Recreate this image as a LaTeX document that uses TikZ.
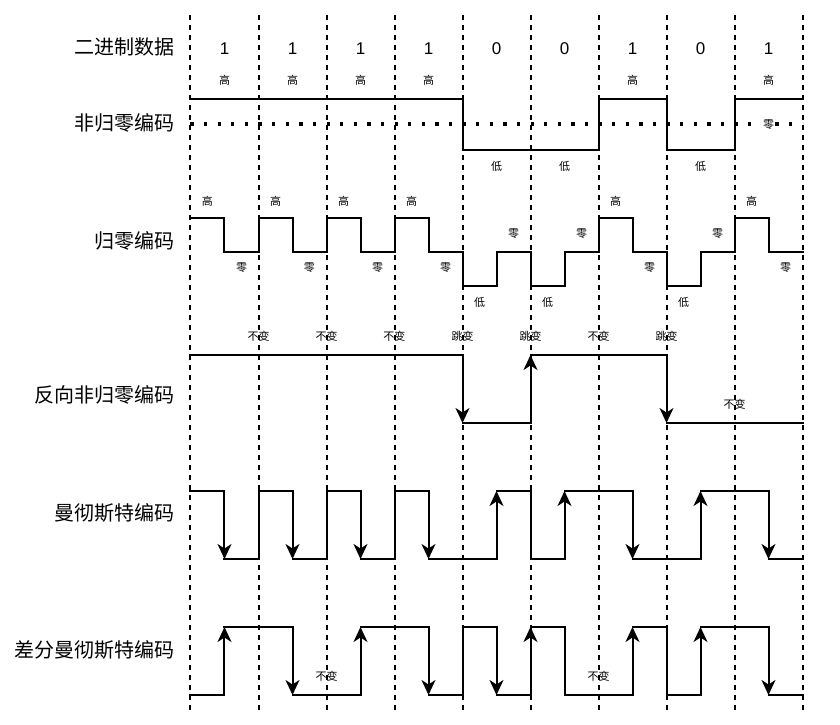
\documentclass[tikz,border=0pt]{standalone}
\usepackage{fontspec}
\setmainfont{Liberation Sans}
\newfontfamily\cjk{Noto Sans CJK SC}
\usetikzlibrary{arrows.meta}

\begin{document}
\begin{tikzpicture}[x=68pt, y=-1pt,
        grid/.style={line width=2pt, dash pattern=on 5pt off 5pt},
        dots/.style={line width=3.2pt, dash pattern=on 3.2pt off 10.4pt},
        wave/.style={line width=2pt, line cap=rect},
        tip/.style={line width=2pt, -{Stealth[length=15pt, width=14pt, inset=4.5pt]}},
        rowlabel/.style={font=\cjk\fontsize{20}{24}\selectfont, anchor=east, inner sep=0pt},
        small/.style={font=\cjk\fontsize{11}{13}\selectfont, inner sep=0pt},
        bit/.style={font=\fontsize{17}{20}\selectfont, inner sep=0pt}]
    \useasboundingbox (-2.8015,0) rectangle (9.5515,725);
    % dashed bit borders
    \foreach \k in {0,...,9}
        \draw[grid] (\k,15) -- (\k,712);
    % row labels
    \node[rowlabel] (Lbin) at (-0.228,47) {二进制数据};
    \node[rowlabel] (Lnrz) at (-0.228,123) {非归零编码};
    \node[rowlabel] (Lrz) at (-0.228,241) {归零编码};
    \node[rowlabel] (Lnrzi) at (-0.228,395) {反向非归零编码};
    \node[rowlabel] (Lman) at (-0.228,513) {曼彻斯特编码};
    \node[rowlabel] (Ldman) at (-0.228,650) {差分曼彻斯特编码};
    % bits
    \foreach \b [count=\k from 0] in {1,1,1,1,0,0,1,0,1} {
        \node[bit] (B\k) at (\k+0.5,49) {\b};
    }
    % NRZ
    \draw[dots] (0,124) -- (9,124);
    \draw[wave] (0,99) -- (4,99) -- (4,150.5) -- (6,150.5) -- (6,99) -- (7,99)
        -- (7,150.5) -- (8,150.5) -- (8,99) -- (9,99);
    \foreach \b [count=\k from 0] in {1,1,1,1,0,0,1,0,1} {
        \ifnum\b=1
            \node[small] (N\k) at (\k+0.5,80) {高};
        \else
            \node[small] (N\k) at (\k+0.5,166) {低};
        \fi
    }
    \node[small, fill=white, inner sep=1pt] (Nz) at (8.5,125) {零};
    % RZ
    \draw[wave] (0,218.5) -- (0.5,218.5) -- (0.5,252) -- (1,252) -- (1,218.5)
        -- (1.5,218.5) -- (1.5,252) -- (2,252) -- (2,218.5) -- (2.5,218.5)
        -- (2.5,252) -- (3,252) -- (3,218.5) -- (3.5,218.5) -- (3.5,252)
        -- (4,252) -- (4,286.5) -- (4.5,286.5) -- (4.5,252) -- (5,252)
        -- (5,286.5) -- (5.5,286.5) -- (5.5,252) -- (6,252) -- (6,218.5)
        -- (6.5,218.5) -- (6.5,252) -- (7,252) -- (7,286.5) -- (7.5,286.5)
        -- (7.5,252) -- (8,252) -- (8,218.5) -- (8.5,218.5) -- (8.5,252) -- (9,252);
    \foreach \b [count=\k from 0] in {1,1,1,1,0,0,1,0,1} {
        \ifnum\b=1
            \node[small] (R\k) at (\k+0.25,201) {高};
            \node[small] (Z\k) at (\k+0.75,268) {零};
        \else
            \node[small] (R\k) at (\k+0.25,302) {低};
            \node[small] (Z\k) at (\k+0.75,234) {零};
        \fi
    }
    \foreach \t [count=\k] in {不变,不变,不变,跳变,跳变,不变,跳变}
        \node[small] (T\k) at (\k,336) {\t};
    % NRZI
    \draw[wave] (0,355) -- (4,355) (4,423) -- (5,423) (5,355) -- (7,355) (7,423) -- (9,423);
    \draw[tip] (4,355) -- (4,423);
    \draw[tip] (5,423) -- (5,355);
    \draw[tip] (7,355) -- (7,423);
    \node[small] (Ti) at (8,404) {不变};
    % Manchester
    \draw[wave] (0,491) -- (0.5,491) (0.5,559) -- (1,559) -- (1,491) -- (1.5,491)
        (1.5,559) -- (2,559) -- (2,491) -- (2.5,491) (2.5,559) -- (3,559) -- (3,491)
        -- (3.5,491) (3.5,559) -- (4.5,559) (4.5,491) -- (5,491) -- (5,559) -- (5.5,559)
        (5.5,491) -- (6.5,491) (6.5,559) -- (7.5,559) (7.5,491) -- (8.5,491) (8.5,559) -- (9,559);
    \foreach \x in {0.5,1.5,2.5,3.5,6.5,8.5}
        \draw[tip] (\x,491) -- (\x,559);
    \foreach \x in {4.5,5.5,7.5}
        \draw[tip] (\x,559) -- (\x,491);
    % differential Manchester
    \draw[wave] (0,695) -- (0.5,695) (0.5,627) -- (1.5,627) (1.5,695) -- (2.5,695)
        (2.5,627) -- (3.5,627) (3.5,695) -- (4,695) -- (4,627) -- (4.5,627)
        (4.5,695) -- (5,695) (5,627) -- (5.5,627) -- (5.5,695) -- (6.5,695)
        (6.5,627) -- (7,627) -- (7,695) -- (7.5,695) (7.5,627) -- (8.5,627) (8.5,695) -- (9,695);
    \foreach \x in {0.5,2.5,5,6.5,7.5}
        \draw[tip] (\x,695) -- (\x,627);
    \foreach \x in {1.5,3.5,4.5,8.5}
        \draw[tip] (\x,627) -- (\x,695);
    \node[small] (Td1) at (2,676) {不变};
    \node[small] (Td2) at (6,676) {不变};
\end{tikzpicture}
\end{document}
